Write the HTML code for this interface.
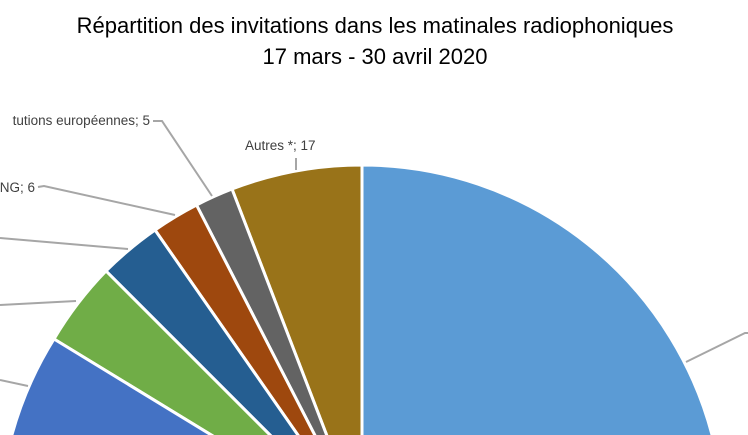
<!DOCTYPE html>
<html><head><meta charset="utf-8"><style>
html,body{margin:0;padding:0;background:#fff;width:748px;height:435px;overflow:hidden}
svg{overflow:hidden}
</style></head><body>
<svg width="748" height="435" viewBox="0 0 748 435" xmlns="http://www.w3.org/2000/svg" style="display:block">
<g font-family="Liberation Sans, sans-serif" fill="#000" font-size="22" text-anchor="middle">
<text x="375" y="33">Répartition des invitations dans les matinales radiophoniques</text>
<text x="375" y="64">17 mars - 30 avril 2020</text>
</g>
<g stroke="#fff" stroke-width="3" stroke-linejoin="round">
<path d="M362,527 L362,165 A362,362 0 0 1 715,447 L362,447 Z" fill="#5b9bd5"/>
<path d="M362,527 L232,189 A362,362 0 0 1 362,165 Z" fill="#997319"/>
<path d="M362,527 L196.5,205 A362,362 0 0 1 232,189 Z" fill="#636363"/>
<path d="M362,527 L155,230 A362,362 0 0 1 196.5,205 Z" fill="#9e480e"/>
<path d="M362,527 L106,271 A362,362 0 0 1 155,230 Z" fill="#255e91"/>
<path d="M362,527 L54,339 A362,362 0 0 1 106,271 Z" fill="#70ad47"/>
<path d="M362,527 L7,455 A362,362 0 0 1 54,339 Z" fill="#4472c4"/>
</g>
<g stroke="#a6a6a6" stroke-width="2" fill="none">
<polyline points="296,158 296,170"/>
<polyline points="153,121 162,121 212,196"/>
<polyline points="38,187 44,186 175,215"/>
<polyline points="0,238 128,249"/>
<polyline points="0,305 76,301"/>
<polyline points="0,380 28,386"/>
<polyline points="686,362 745,333 748,333"/>
</g>
<g font-family="Liberation Sans, sans-serif" font-size="13.5" fill="#404040">
<text x="245" y="150">Autres *; 17</text>
<text x="150" y="125" text-anchor="end">tutions européennes; 5</text>
<text x="35" y="192" text-anchor="end">NG; 6</text>
</g>
</svg>
</body></html>
